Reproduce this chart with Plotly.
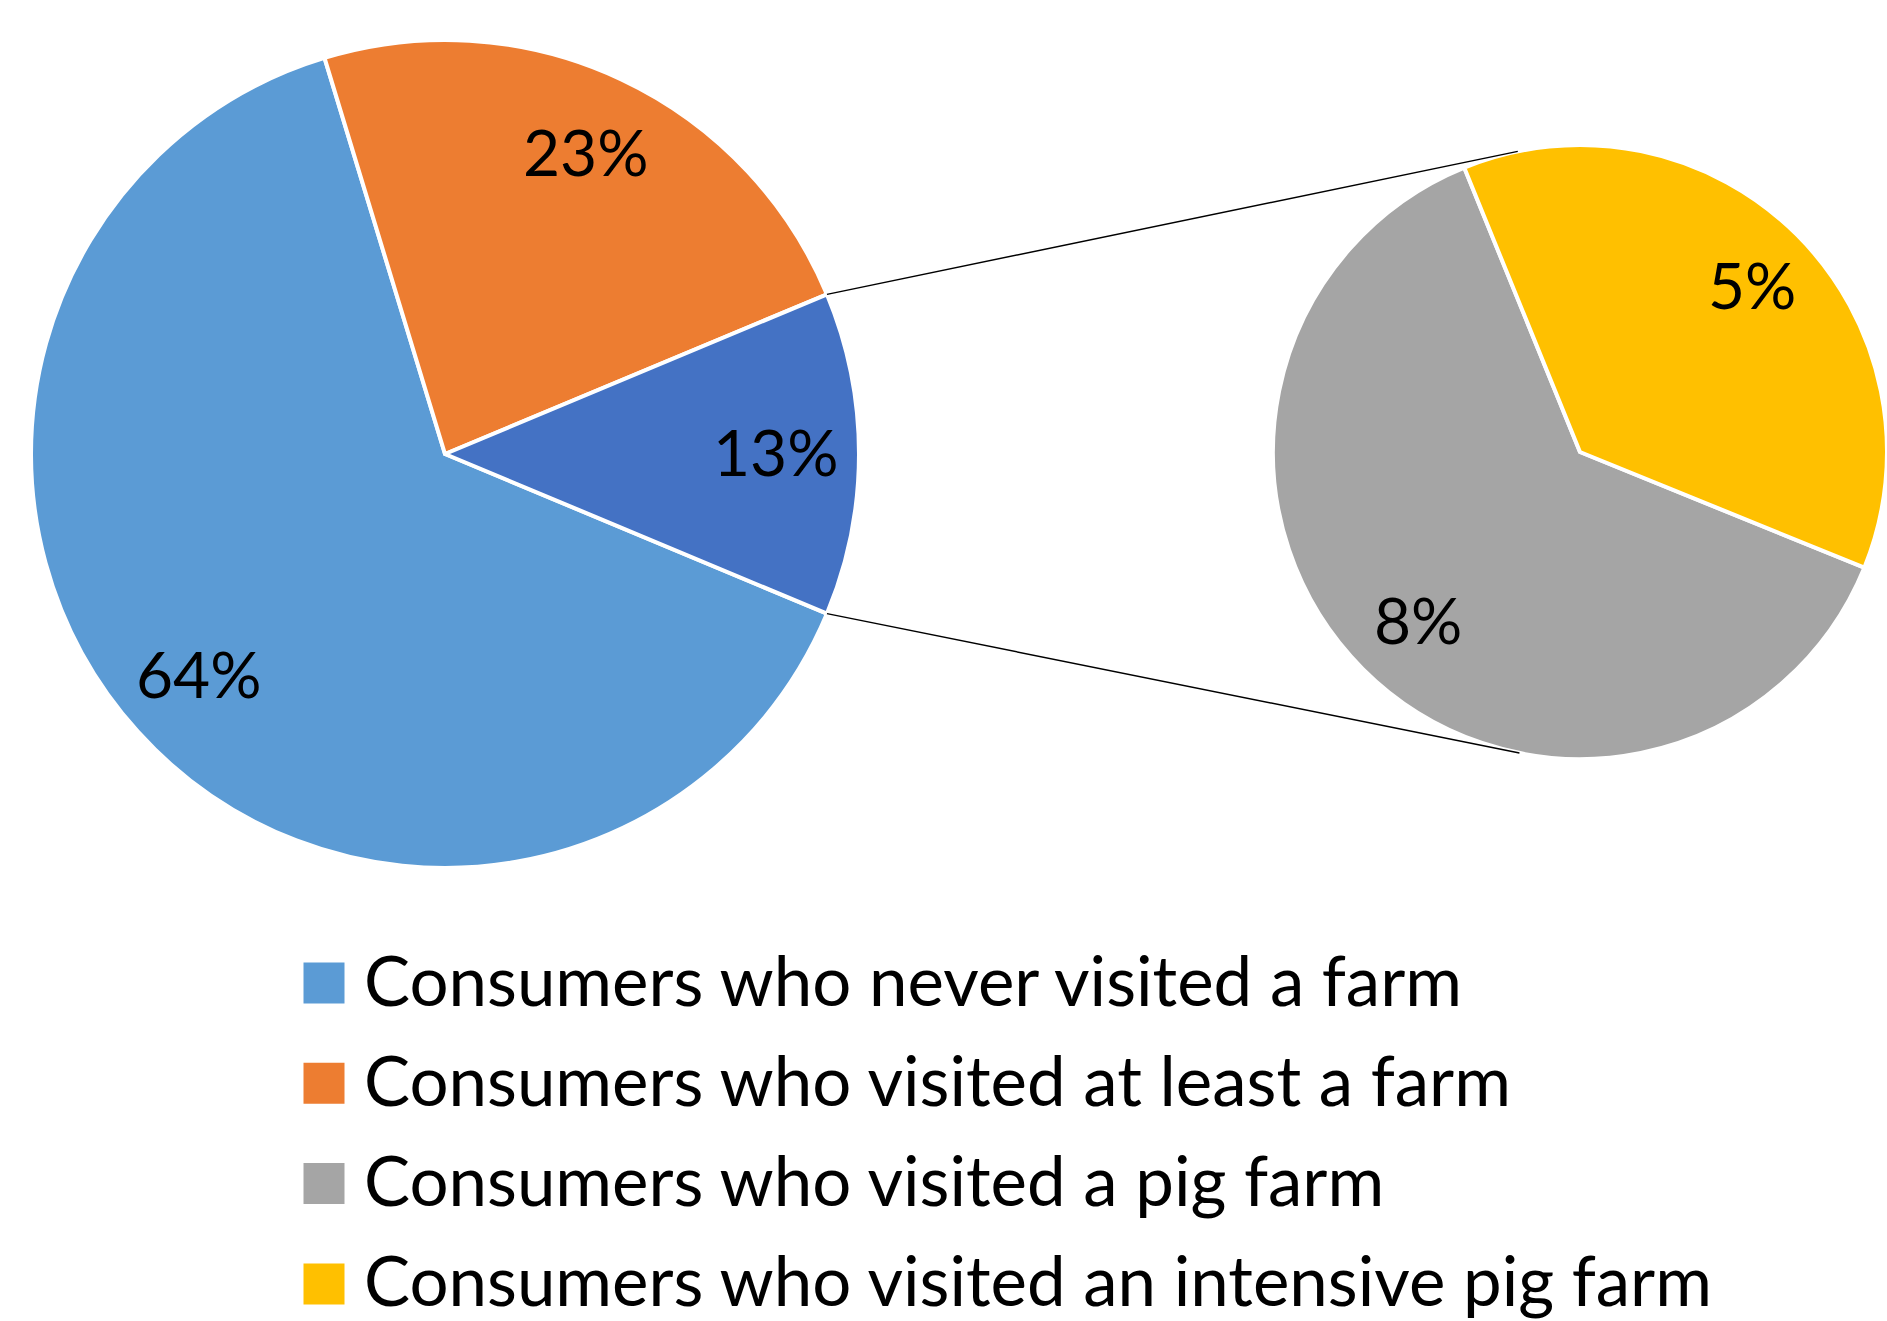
import math
import plotly.graph_objects as go

W, H = 1887, 1321

# ---- data ----
main_labels = ["Consumers who never visited a farm", "Consumers who visited at least a farm", "Other"]
main_values = [64.0, 23.4, 12.6]
sub_labels = ["Consumers who visited a pig farm", "Consumers who visited an intensive pig farm"]
sub_values = [7.9, 4.7]
legend_labels = [main_labels[0], main_labels[1], sub_labels[0], sub_labels[1]]

main_colors = ["#5B9BD5", "#ED7D31", "#4472C4"]
sub_colors = ["#A5A5A5", "#FFC000"]
legend_colors = [main_colors[0], main_colors[1], sub_colors[0], sub_colors[1]]

FONT = "Lato, 'Open Sans', sans-serif"

# ---- geometry (pixels) ----
c1x, c1y, r1 = 445.0, 454.0, 414.0
c2x, c2y, r2 = 1580.0, 452.0, 307.0


def px(x):
    return x / W


def py(y):
    return 1 - y / H


main_total = sum(main_values)
sub_total = sum(sub_values)
other_frac = main_values[-1] / main_total
rot_main = 90 + other_frac * 180           # compass degrees, clockwise
yellow_deg = sub_values[1] / sub_total * 360
rot_sub = 45 + yellow_deg / 2

fig = go.Figure()

fig.add_trace(go.Pie(
    labels=main_labels, values=main_values, sort=False, direction="clockwise",
    rotation=rot_main, textinfo="none", hoverinfo="label+percent",
    marker=dict(colors=main_colors, line=dict(color="white", width=4)),
    domain=dict(x=[px(c1x - r1), px(c1x + r1)], y=[py(c1y + r1), py(c1y - r1)]),
    showlegend=False,
))
fig.add_trace(go.Pie(
    labels=sub_labels, values=sub_values, sort=False, direction="clockwise",
    rotation=rot_sub, textinfo="none", hoverinfo="label+value",
    marker=dict(colors=sub_colors, line=dict(color="white", width=4)),
    domain=dict(x=[px(c2x - r2), min(1.0, px(c2x + r2))], y=[py(c2y + r2), py(c2y - r2)]),
    showlegend=False,
))

annotations = []


def slice_labels(values, total, rot, cx, cy, r, frac, dx=0.0, dy=0.0):
    start = rot
    for v in values:
        span = v / total * 360
        mid = math.radians(start + span / 2)
        x = cx + frac * r * math.sin(mid) + dx
        y = cy - frac * r * math.cos(mid) + dy
        annotations.append(dict(
            x=px(x), y=py(y), xref="paper", yref="paper", showarrow=False,
            text=f"{round(v):d}%",
            font=dict(family=FONT, size=64, color="black"),
            xanchor="center", yanchor="middle"))
        start += span


slice_labels(main_values, main_total, rot_main, c1x, c1y, r1, 0.8, dy=-3)
slice_labels(sub_values, sub_total, rot_sub, c2x, c2y, r2, 0.77, dx=5)

# ---- connector lines (tangents from the "other" slice edges to second pie) ----
shapes = []
edge_angles = [rot_main - other_frac * 360, rot_main]
for k, a in enumerate(edge_angles):
    ar = math.radians(a)
    p = (c1x + r1 * math.sin(ar), c1y - r1 * math.cos(ar))
    vx, vy = p[0] - c2x, p[1] - c2y
    d = math.hypot(vx, vy)
    phi = math.atan2(vy, vx)
    alpha = math.acos(r2 / d)
    cands = [(c2x + r2 * math.cos(phi + s * alpha), c2y + r2 * math.sin(phi + s * alpha)) for s in (1, -1)]
    cands.sort(key=lambda t: t[1])
    t = cands[0] if k == 0 else cands[1]
    shapes.append(dict(type="line", xref="paper", yref="paper",
                       x0=px(p[0]), y0=py(p[1]), x1=px(t[0]), y1=py(t[1]),
                       line=dict(color="black", width=1.5)))

# ---- legend ----
leg_x_sq = 324.0
leg_x_text = 362.0
leg_y0 = 979.0
leg_dy = 100.3
lx, ly = [], []
for i, lab in enumerate(legend_labels):
    yy = leg_y0 + i * leg_dy
    lx.append(px(leg_x_sq))
    ly.append(py(yy + 4))
    annotations.append(dict(
        x=px(leg_x_text), y=py(yy), xref="paper", yref="paper", showarrow=False,
        text=lab, font=dict(family=FONT, size=69, color="black"),
        xanchor="left", yanchor="middle"))

fig.add_trace(go.Scatter(
    x=lx, y=ly, mode="markers", showlegend=False, hoverinfo="skip",
    marker=dict(symbol="square", size=41, color=legend_colors, line=dict(width=0)),
    xaxis="x", yaxis="y",
))

fig.update_layout(
    width=W, height=H,
    margin=dict(l=0, r=0, t=0, b=0),
    paper_bgcolor="white", plot_bgcolor="rgba(0,0,0,0)",
    xaxis=dict(range=[0, 1], domain=[0, 1], visible=False, fixedrange=True),
    yaxis=dict(range=[0, 1], domain=[0, 1], visible=False, fixedrange=True),
    annotations=annotations, shapes=shapes,
    font=dict(family=FONT),
)

fig.write_html("out.html")
